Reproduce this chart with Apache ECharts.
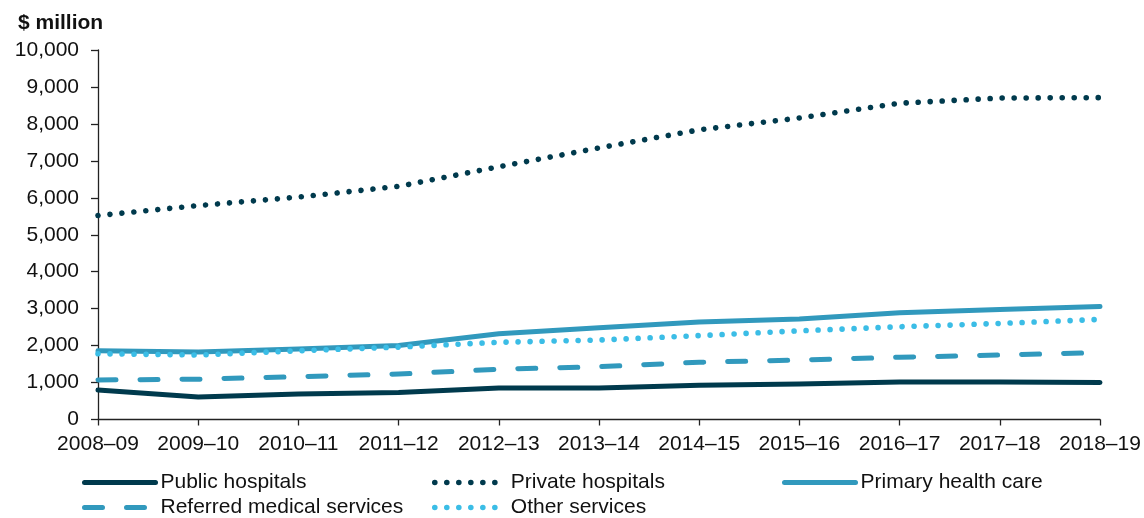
<!DOCTYPE html>
<html>
<head>
<meta charset="utf-8">
<script src="https://cdn.jsdelivr.net/npm/echarts@6/dist/echarts.min.js"></script>
<style>
  html, body { margin: 0; padding: 0; background: #fff; }
  #chart { width: 1144px; height: 518px; }
</style>
</head>
<body>
<div id="chart"></div>
<script>
  // categories (financial years)
  const years = ['2008–09', '2009–10', '2010–11', '2011–12', '2012–13', '2013–14',
    '2014–15', '2015–16', '2016–17', '2017–18', '2018–19']

  // values, $ million
  const publicHospitals = [800, 610, 690, 730, 850, 850, 930, 960, 1015, 1015, 1000]
  const privateHospitals = [5520, 5790, 6020, 6310, 6840, 7350, 7840, 8160, 8560, 8700, 8710]
  const primaryHealthCare = [1860, 1830, 1910, 2000, 2320, 2480, 2640, 2720, 2890, 2980, 3060]
  const referredMedical = [1070, 1090, 1160, 1230, 1360, 1430, 1550, 1610, 1685, 1745, 1810]
  const otherServices = [1780, 1745, 1860, 1960, 2090, 2150, 2270, 2400, 2510, 2600, 2710]

  const DARK = '#003a4d'
  const MID = '#3199bd'
  const LIGHT = '#3bbde6'
  const FONT = 'Arial, "Liberation Sans", sans-serif'
  const DOT = [0.01, 12]
  const DASH = [18, 24]

  const chart = echarts.init(document.getElementById('chart'))

  // dotted lines get slightly fatter strokes so the dots read like the original
  const widthFor = (type) => (type === DOT ? 5.6 : 5)

  // helper so every line shares the same basics
  const lineSeries = (name, data, color, type) => ({
    name,
    type: 'line',
    data,
    symbol: 'none',
    showSymbol: false,
    silent: true,
    lineStyle: { color, width: widthFor(type), type, cap: 'round', join: 'round' },
    itemStyle: { color }
  })

  // legend entry: just the line, no symbol
  const legendItem = (name, color, type) => ({
    name,
    itemStyle: { opacity: 0 },
    lineStyle: { color, width: widthFor(type), type, cap: 'round', opacity: 1 }
  })

  const legendBase = {
    orient: 'vertical',
    top: 472,
    itemWidth: 71,
    itemHeight: 14,
    itemGap: 4,
    textStyle: { fontSize: 21, fontFamily: FONT, color: '#111', lineHeight: 21 },
    selectedMode: false,
    padding: 0
  }

  chart.setOption({
    animation: false,
    title: {
      text: '$ million',
      left: 18,
      top: 13,
      padding: 0,
      textStyle: { fontSize: 21, fontWeight: 'bold', fontFamily: FONT, color: '#111' }
    },
    grid: { left: 98, right: 44, top: 50, bottom: 98.5, containLabel: false },
    legend: [
      Object.assign({}, legendBase, {
        left: 82,
        data: [legendItem('Public hospitals', DARK, 'solid'), legendItem('Referred medical services', MID, DASH)]
      }),
      Object.assign({}, legendBase, {
        left: 432,
        data: [legendItem('Private hospitals', DARK, DOT), legendItem('Other services', LIGHT, DOT)]
      }),
      Object.assign({}, legendBase, {
        left: 782,
        data: [legendItem('Primary health care', MID, 'solid')]
      })
    ],
    xAxis: {
      type: 'category',
      data: years,
      boundaryGap: false,
      axisLine: { lineStyle: { color: '#222', width: 1.3 } },
      axisTick: { show: true, length: 6, alignWithLabel: true, lineStyle: { color: '#222', width: 1.3 } },
      axisLabel: { fontSize: 21, fontFamily: FONT, color: '#111', margin: 14, interval: 0 },
      splitLine: { show: false }
    },
    yAxis: {
      type: 'value',
      min: 0,
      max: 10000,
      interval: 1000,
      axisLine: { show: true, lineStyle: { color: '#222', width: 1.3 } },
      axisTick: { show: true, length: 7, lineStyle: { color: '#222', width: 1.3 } },
      axisLabel: {
        fontSize: 21,
        fontFamily: FONT,
        color: '#111',
        margin: 19,
        formatter: (v) => v.toLocaleString('en-US')
      },
      splitLine: { show: false }
    },
    series: [
      lineSeries('Public hospitals', publicHospitals, DARK, 'solid'),
      lineSeries('Private hospitals', privateHospitals, DARK, DOT),
      lineSeries('Primary health care', primaryHealthCare, MID, 'solid'),
      lineSeries('Referred medical services', referredMedical, MID, DASH),
      lineSeries('Other services', otherServices, LIGHT, DOT)
    ]
  })
</script>
</body>
</html>
